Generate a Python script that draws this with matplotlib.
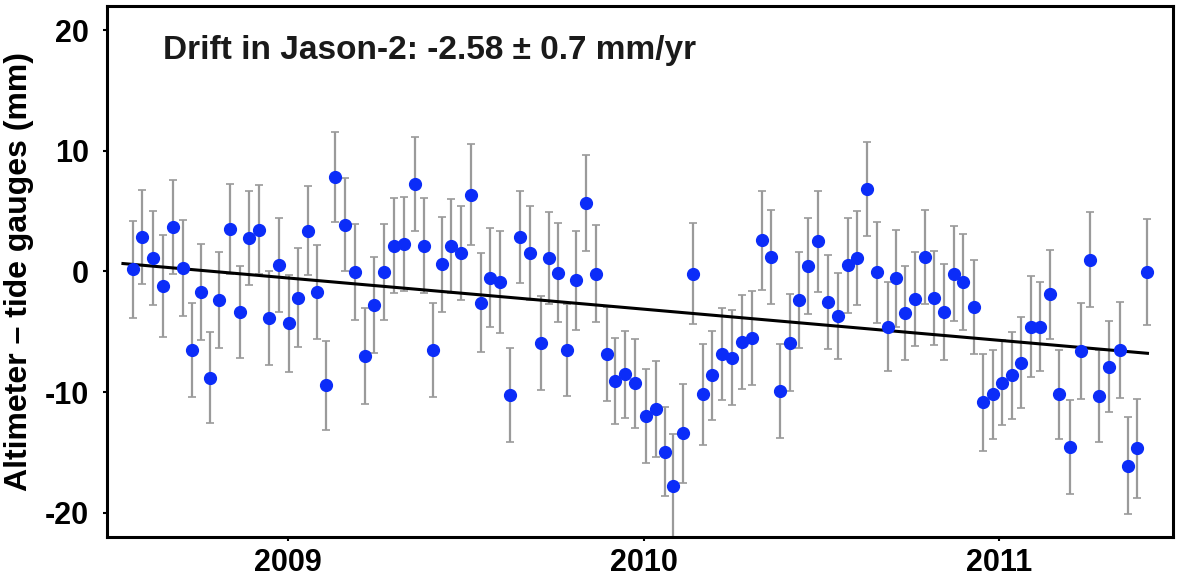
import matplotlib
matplotlib.use("Agg")
import matplotlib.pyplot as plt

plt.rcParams['font.family'] = ['Liberation Sans', 'DejaVu Sans']
plt.rcParams['axes.unicode_minus'] = False

# altimeter minus tide gauge, one value per ~10-day cycle
years = [2008.563, 2008.590, 2008.619, 2008.647, 2008.675, 2008.704, 2008.730, 2008.756, 2008.781, 2008.806,
         2008.835, 2008.863, 2008.889, 2008.917, 2008.945, 2008.973, 2009.001, 2009.028, 2009.055, 2009.080,
         2009.107, 2009.132, 2009.159, 2009.187, 2009.216, 2009.241, 2009.269, 2009.298, 2009.326, 2009.356,
         2009.383, 2009.407, 2009.434, 2009.459, 2009.485, 2009.515, 2009.543, 2009.569, 2009.597, 2009.625,
         2009.653, 2009.681, 2009.710, 2009.733, 2009.759, 2009.785, 2009.811, 2009.839, 2009.867, 2009.896,
         2009.921, 2009.949, 2009.977, 2010.006, 2010.034, 2010.059, 2010.083, 2010.112, 2010.139, 2010.167,
         2010.193, 2010.221, 2010.250, 2010.278, 2010.306, 2010.332, 2010.359, 2010.384, 2010.412, 2010.437,
         2010.464, 2010.490, 2010.519, 2010.547, 2010.574, 2010.602, 2010.630, 2010.658, 2010.688, 2010.710,
         2010.736, 2010.763, 2010.791, 2010.818, 2010.846, 2010.874, 2010.900, 2010.929, 2010.956, 2010.984,
         2011.010, 2011.036, 2011.062, 2011.090, 2011.116, 2011.144, 2011.170, 2011.200, 2011.231, 2011.256,
         2011.283, 2011.311, 2011.342, 2011.362, 2011.389, 2011.416]

diff_mm = [0.17, 2.87, 1.13, -1.21, 3.69, 0.30, -6.5, -1.71, -8.79, -2.37,
           3.53, -3.36, 2.78, 3.47, -3.83, 0.52, -4.30, -2.18, 3.39, -1.71,
           -9.42, 7.82, 3.88, -0.06, -7.0, -2.78, -0.06, 2.15, 2.29, 7.27,
           2.15, -6.5, 0.58, 2.09, 1.54, 6.36, -2.59, -0.52, -0.88, -10.25,
           2.87, 1.54, -5.9, 1.13, -0.11, -6.5, -0.72, 5.67, -0.17, -6.86,
           -9.07, -8.51, -9.26, -11.96, -11.4, -14.93, -17.74, -13.39, -0.19, -10.17,
           -8.6, -6.86, -7.13, -5.84, -5.48, 2.59, 1.21, -9.89, -5.9, -2.37,
           0.44, 2.5, -2.54, -3.69, 0.5, 1.13, 6.83, -0.06, -4.57, -0.58,
           -3.47, -2.26, 1.21, -2.23, -3.36, -0.17, -0.88, -2.92, -10.85, -10.17,
           -9.2, -8.6, -7.55, -4.57, -4.57, -1.9, -10.17, -14.52, -6.58, 0.99,
           -10.3, -7.88, -6.5, -16.09, -14.66, -0.03]

err_mm = [4.0, 3.9, 3.9, 4.2, 3.9, 4.0, 3.9, 3.95, 3.8, 3.95,
          3.75, 3.8, 3.9, 3.7, 3.9, 3.9, 4.0, 4.1, 3.7, 3.9,
          3.7, 3.7, 3.85, 4.0, 4.0, 4.0, 4.0, 3.9, 3.9, 3.9,
          3.9, 3.9, 3.9, 3.9, 3.9, 4.2, 4.1, 4.1, 4.2, 3.9,
          3.8, 3.9, 3.9, 3.8, 4.1, 3.8, 4.1, 4.0, 4.0, 3.9,
          3.6, 3.6, 3.7, 3.9, 4.0, 3.7, 4.3, 4.1, 4.2, 4.2,
          3.7, 3.8, 3.9, 3.9, 3.9, 4.1, 3.9, 3.9, 4.0, 4.0,
          4.0, 4.2, 3.9, 3.6, 3.9, 3.9, 3.9, 4.2, 3.7, 4.0,
          3.9, 3.9, 3.9, 3.9, 4.0, 3.9, 4.0, 3.9, 4.0, 3.7,
          3.5, 3.6, 3.8, 4.2, 3.7, 3.7, 3.7, 3.9, 4.0, 3.9,
          3.8, 3.8, 4.0, 4.0, 4.1, 4.4]

# fitted drift line
drift = -2.58
drift_err = 0.7
trend_t0 = 2008.535
trend_t1 = 2011.418
trend_y0 = 0.66

year_ticks = [2009, 2010, 2011]
y_ticks = [-20, -10, 0, 10, 20]

fig = plt.figure(figsize=(11.78, 5.8), dpi=100)
ax = fig.add_axes([0.0908, 0.0741, 0.905, 0.9156])

eb = ax.errorbar(years, diff_mm, yerr=err_mm, fmt='none', ecolor='#9a9a9a',
                 elinewidth=1.6, capsize=3, capthick=1.2, zorder=1)
for cap in eb[1]:
    cap.set_color('#555555')

trend_x = [trend_t0, trend_t1]
trend_y = [trend_y0, trend_y0 + drift * (trend_t1 - trend_t0)]
ax.plot(trend_x, trend_y, color='black', lw=2.2, zorder=2)

ax.plot(years, diff_mm, 'o', color='#0b2cf8', markersize=8.5, zorder=3)

ax.text(0.0525, 0.917, 'Drift in Jason-2: %.2f \u00b1 %.1f mm/yr' % (drift, drift_err),
        transform=ax.transAxes, fontsize=24, fontweight='bold', color='#1a1a1a',
        va='center', ha='left')

ax.set_xlim(2008.49, 2011.49)
ax.set_ylim(-22, 22)
ax.set_xticks(year_ticks)
ax.set_xticklabels([str(y) for y in year_ticks])
ax.set_yticks(y_ticks)
ax.tick_params(axis='both', direction='out', length=3, width=1.5, labelsize=22)
ax.tick_params(axis='x', pad=5)
ax.tick_params(axis='y', pad=10)
for lab in ax.get_xticklabels() + ax.get_yticklabels():
    lab.set_fontweight('bold')

ax.set_ylabel('Altimeter \u2013 tide gauges (mm)', fontsize=23, fontweight='bold', labelpad=8)

for s in ax.spines.values():
    s.set_linewidth(2.2)
    s.set_color('black')

fig.savefig('out.png', dpi=100)
